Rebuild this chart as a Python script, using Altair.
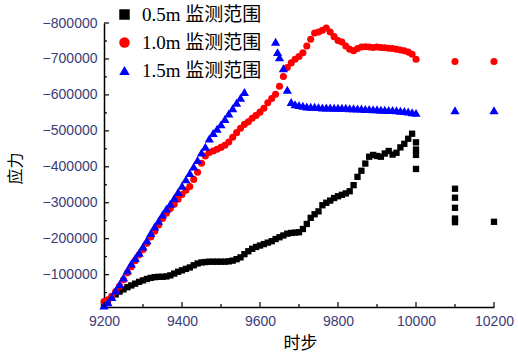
import altair as alt
import pandas as pd

labels = ["0.5m 监测范围", "1.0m 监测范围", "1.5m 监测范围"]
colors = ["#000000", "#ff0000", "#0000ff"]
shapes = ["square", "circle", "triangle-up"]
marker_sizes = [40, 50, 85]

steps_main = list(range(9200, 10000, 10))

black_vals = [-17, -26, -36, -45, -53, -59, -65, -70, -75, -80,
              -84, -88, -91, -93, -94, -94, -95, -98, -103, -108,
              -112, -116, -120, -126, -131, -134, -135, -136, -136, -136,
              -136, -136, -137, -139, -143, -148, -157, -165, -172, -177,
              -181, -185, -189, -193, -199, -204, -209, -214, -216, -217,
              -218, -227, -241, -258, -268, -276, -293, -300, -306, -313,
              -318, -322, -326, -332, -349, -372, -389, -409, -428, -433,
              -430, -428, -437, -444, -434, -439, -454, -464, -478, -492]
black_extra_steps = [10000, 10000, 10000, 10000, 10100, 10100, 10100, 10100, 10100, 10200]
black_extra_vals = [-468, -448, -433, -394, -339, -314, -286, -256, -246, -247]

red_vals = [-25, -30, -40, -53, -68, -86, -105, -122, -139, -155,
            -170, -187, -205, -221, -238, -256, -271, -284, -296, -310,
            -323, -335, -345, -365, -385, -410, -430, -440, -444, -449,
            -454, -460, -469, -482, -495, -507, -518, -525, -535, -543,
            -552, -563, -578, -590, -602, -624, -651, -676, -689, -699,
            -707, -717, -736, -755, -772, -775, -780, -786, -775, -762,
            -751, -747, -736, -727, -723, -729, -733, -734, -733, -732,
            -733, -732, -731, -730, -729, -727, -725, -723, -719, -713]
red_extra_steps = [10000, 10100, 10200]
red_extra_vals = [-699, -693, -693]

blue_steps = (list(range(9200, 9570, 10)) + [9640, 9645, 9650, 9660]
              + list(range(9670, 10000, 10)) + [10000, 10100, 10200])
blue_vals = [-14, -23, -38, -56, -73, -92, -112, -131, -146, -161,
             -178, -196, -216, -234, -250, -267, -283, -297, -313, -330,
             -347, -365, -383, -401, -419, -440, -456, -479, -494, -506,
             -518, -533, -548, -563, -578, -592, -608,
             -748, -719, -705, -674,
             -614, -580, -574, -572, -570, -568, -567, -567, -566, -565,
             -565, -565, -564, -564, -564, -564, -563, -563, -562, -562,
             -561, -561, -560, -560, -559, -559, -558, -558, -557, -556,
             -555, -554, -552,
             -550, -557, -557]

x_major = [9200, 9400, 9600, 9800, 10000, 10200]
x_minor = [9300, 9500, 9700, 9900, 10100]
y_labels = [-800000, -700000, -600000, -500000, -400000, -300000, -200000, -100000]
y_minor = [-750000, -650000, -550000, -450000, -350000, -250000, -150000, -50000]

rows = []
for s, v in zip(steps_main + black_extra_steps, black_vals + black_extra_vals):
    rows.append({"step": s, "stress": v * 1000, "series": labels[0]})
for s, v in zip(steps_main + red_extra_steps, red_vals + red_extra_vals):
    rows.append({"step": s, "stress": v * 1000, "series": labels[1]})
for s, v in zip(blue_steps, blue_vals):
    rows.append({"step": s, "stress": v * 1000, "series": labels[2]})
df = pd.DataFrame(rows)

label_color = "#3c3c78"
x_scale = alt.Scale(domain=[9200, 10200], nice=False, zero=False)
y_scale = alt.Scale(domain=[-800000, -10000], reverse=True, nice=False, zero=False)

legend = alt.Legend(title=None, orient="none", legendX=11, legendY=-18,
                    symbolSize=110, symbolStrokeWidth=0,
                    labelFont="Liberation Serif, Noto Sans CJK SC", labelFontSize=19,
                    labelColor="black", rowPadding=8, labelOffset=8, padding=0)

x_enc = alt.X("step:Q", scale=x_scale,
              axis=alt.Axis(values=x_major, format="d", title="时步", ticks=False, grid=False,
                            labelFlush=False, labelOverlap=False,
                            domainColor="black", domainWidth=1.5,
                            labelFont="Liberation Sans", labelFontSize=14, labelColor=label_color,
                            labelPadding=7, titleFont="Noto Sans CJK SC", titleFontSize=17,
                            titleFontWeight="normal", titleColor="black",
                            titleX=196, titleY=36, titleBaseline="middle", titleAlign="center"))
y_enc = alt.Y("stress:Q", scale=y_scale,
              axis=alt.Axis(values=y_labels, format="d", title="应力", ticks=False, grid=False,
                            labelFlush=False, labelOverlap=False,
                            domainColor="black", domainWidth=1.5,
                            labelFont="Liberation Sans", labelFontSize=14, labelColor=label_color,
                            labelPadding=7, titleFont="Noto Sans CJK SC", titleFontSize=16,
                            titleFontWeight="normal", titleColor="black",
                            titleX=-89, titleY=145, titleBaseline="middle", titleAlign="center"))
color_enc = alt.Color("series:N", scale=alt.Scale(domain=labels, range=colors), legend=legend)
shape_enc = alt.Shape("series:N", scale=alt.Scale(domain=labels, range=shapes), legend=legend)

series_layers = []
for lab, sz in zip(labels, marker_sizes):
    series_layers.append(
        alt.Chart(df).transform_filter(alt.datum.series == lab)
        .mark_point(filled=True, opacity=1, strokeWidth=0, size=sz)
        .encode(x=x_enc, y=y_enc, color=color_enc, shape=shape_enc)
    )

xmaj = alt.Chart(pd.DataFrame({"step": x_major})).mark_rule(color="black", strokeWidth=1.2).encode(
    x="step:Q", y=alt.value(284), y2=alt.value(279))
xmin = alt.Chart(pd.DataFrame({"step": x_minor})).mark_rule(color="black", strokeWidth=1.2).encode(
    x="step:Q", y=alt.value(284), y2=alt.value(281))
ymaj = alt.Chart(pd.DataFrame({"stress": y_labels})).mark_rule(color="black", strokeWidth=1.2).encode(
    y="stress:Q", x=alt.value(0), x2=alt.value(5))
ymin = alt.Chart(pd.DataFrame({"stress": y_minor})).mark_rule(color="black", strokeWidth=1.2).encode(
    y="stress:Q", x=alt.value(0), x2=alt.value(3))

chart = alt.layer(*series_layers, xmaj, xmin, ymaj, ymin).properties(
    width=390, height=284,
    padding={"left": 104, "top": 23, "right": 24, "bottom": 49},
    autosize="none",
).configure_view(stroke=None)

chart.save("out.html", embed_options={"renderer": "svg", "actions": False})
